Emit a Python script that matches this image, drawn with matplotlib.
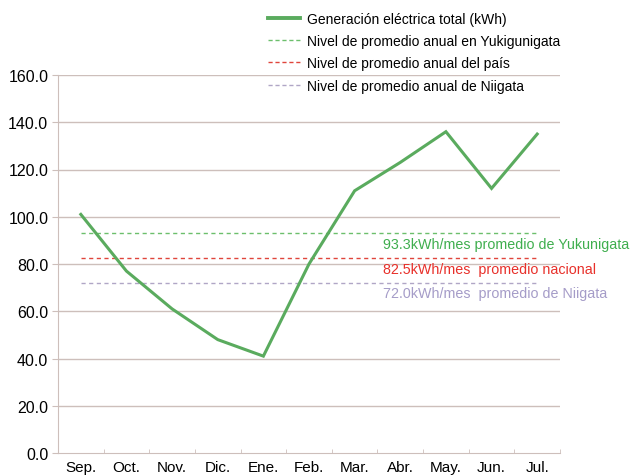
import matplotlib
matplotlib.use("Agg")
import matplotlib.pyplot as plt
from matplotlib.lines import Line2D

months = ["Sep.", "Oct.", "Nov.", "Dic.", "Ene.", "Feb.", "Mar.", "Abr.", "May.", "Jun.", "Jul."]
generation = [101, 77, 61, 48, 41, 80, 111, 123, 136, 112, 135]
avg_yuki = 93.3
avg_nacional = 82.5
avg_niigata = 72.0
yticks = [0, 20, 40, 60, 80, 100, 120, 140, 160]

narrow = ["Liberation Sans Narrow", "Liberation Sans", "DejaVu Sans"]
plt.rcParams["font.family"] = ["Liberation Sans", "DejaVu Sans"]

fig = plt.figure(figsize=(6.30, 4.77), dpi=100)
ax = fig.add_axes([58/630, 1-454/477, (560-58)/630, (454-76)/477])

green = "#5aab5e"
red = "#e0453c"
lav = "#b0a6c6"
grid_c = "#cdbfbb"

x = list(range(len(months)))
for y in yticks[1:]:
    ax.axhline(y, color=grid_c, lw=1.0, zorder=1)

dash = (0, (3, 2.5))
ax.plot([x[0], x[-1]], [avg_yuki]*2, ls=dash, color="#6cbf6c", lw=1.0, zorder=2)
ax.plot([x[0], x[-1]], [avg_nacional]*2, ls=dash, color=red, lw=1.0, zorder=2)
ax.plot([x[0], x[-1]], [avg_niigata]*2, ls=dash, color=lav, lw=1.0, zorder=2)
ax.plot(x, generation, color=green, lw=2.2, zorder=3, solid_joinstyle="miter")

ax.set_xlim(-0.5, len(months)-0.5)
ax.set_ylim(0, 160)
ax.set_yticks(yticks)
ax.set_yticklabels([f"{v:.1f}" for v in yticks], fontsize=11.5)
ax.set_xticks(x)
ax.set_xticklabels(months, fontsize=11, family=narrow)
ax.set_xticks([i+0.5 for i in range(len(months))], minor=True)
ax.tick_params(axis="x", which="major", length=0, pad=5)
ax.tick_params(axis="x", which="minor", length=3, direction="in", color=grid_c)
ax.tick_params(axis="y", length=4, color=grid_c, pad=3)
for s in ["top", "right"]:
    ax.spines[s].set_visible(False)
ax.spines["left"].set_color(grid_c)
ax.spines["bottom"].set_color(grid_c)

tx = 6.62
ax.text(tx, 88.4, "93.3kWh/mes promedio de Yukunigata", color="#3fae4e",
        fontsize=10.3, family=narrow, va="center", ha="left")
ax.text(tx, 77.8, "82.5kWh/mes  promedio nacional", color="#e8302a",
        fontsize=10.3, family=narrow, va="center", ha="left")
ax.text(tx, 67.6, "72.0kWh/mes  promedio de Niigata", color="#a59cc8",
        fontsize=10.3, family=narrow, va="center", ha="left")

handles = [
    Line2D([], [], color=green, lw=2.8),
    Line2D([], [], color="#6cbf6c", lw=1.0, ls=(0, (3, 2))),
    Line2D([], [], color=red, lw=1.0, ls=(0, (3, 2))),
    Line2D([], [], color=lav, lw=1.0, ls=(0, (3, 2))),
]
labels = [
    "Generación eléctrica total (kWh)",
    "Nivel de promedio anual en Yukigunigata",
    "Nivel de promedio anual del país",
    "Nivel de promedio anual de Niigata",
]
fig.legend(handles, labels, loc="upper left", bbox_to_anchor=(262.5/630, 1-7/477),
           frameon=False, prop={"family": narrow, "size": 10}, handlelength=2.3,
           handletextpad=0.5, labelspacing=0.6, borderaxespad=0)

fig.savefig("out.png", dpi=100)
